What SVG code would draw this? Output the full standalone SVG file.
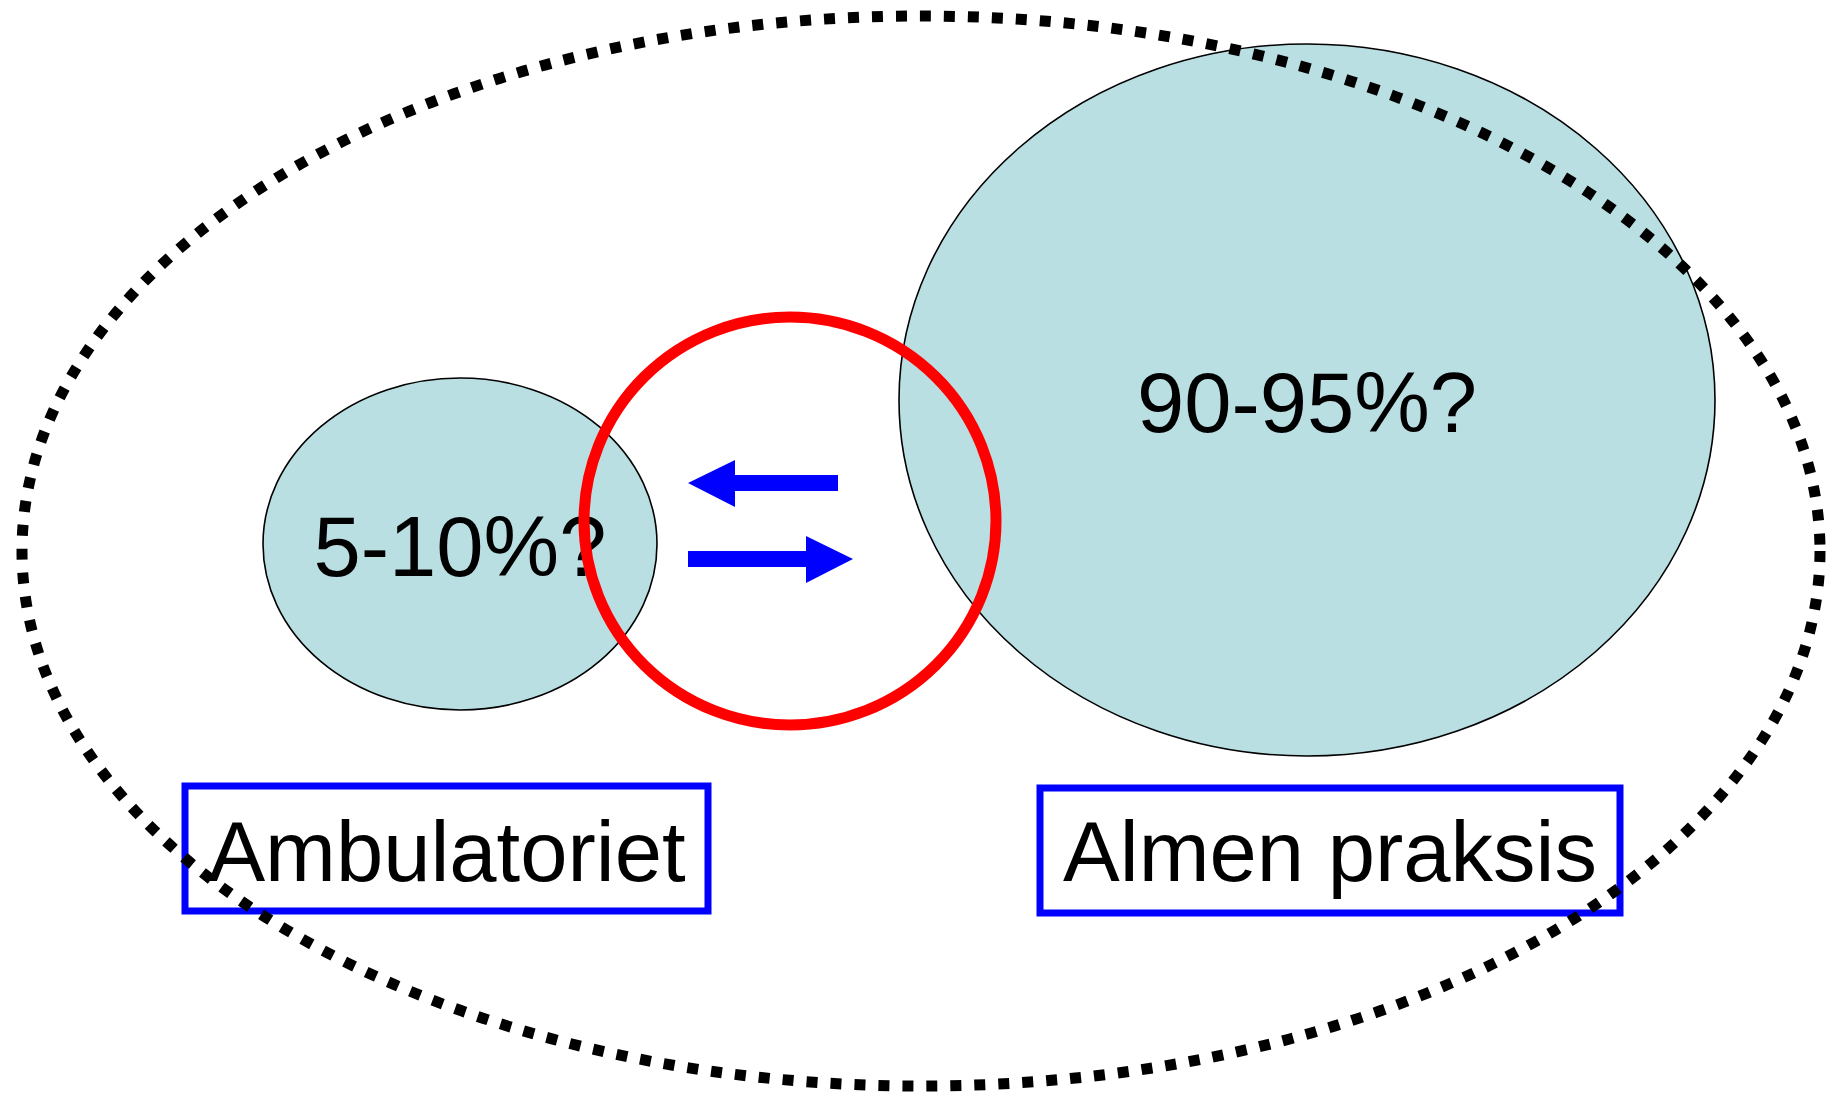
<svg xmlns="http://www.w3.org/2000/svg" width="1837" height="1095" viewBox="0 0 1837 1095">
<style>
.blob{fill:#B9DFE3;stroke:#000;stroke-width:1.6}
.lbl{font-family:"Liberation Sans",Arial,sans-serif;font-size:85px;fill:#000;text-anchor:middle}
.box{fill:none;stroke:#0000FF;stroke-width:7}
.arrow{fill:#0000FF}
</style>
<rect width="1837" height="1095" fill="#fff"/>
<g id="almen-praksis-ellipse">
<ellipse class="blob" cx="1307" cy="400" rx="408" ry="356"/>
<text class="lbl" x="1307" y="432">90-95%?</text>
</g>
<g id="ambulatoriet-ellipse">
<ellipse class="blob" cx="460" cy="544" rx="197" ry="166"/>
<text class="lbl" x="460" y="576">5-10%?</text>
</g>
<g id="overlap-circle">
<ellipse cx="790" cy="521" rx="206" ry="204" fill="none" stroke="#FF0000" stroke-width="11"/>
</g>
<g id="connectors">
<polygon class="arrow" points="688,483 735,460 735,475 838,475 838,491 735,491 735,507"/>
<polygon class="arrow" points="688,551 806,551 806,536 853,559 806,583 806,567 688,567"/>
</g>
<g id="label-ambulatoriet">
<rect class="box" x="185" y="786" width="523" height="125"/>
<text class="lbl" x="447" y="881">Ambulatoriet</text>
</g>
<g id="label-almen-praksis">
<rect class="box" x="1040" y="788" width="580" height="125"/>
<text class="lbl" x="1330" y="881">Almen praksis</text>
</g>
<g id="outer-boundary">
<ellipse cx="921" cy="551" rx="899" ry="535" fill="none" stroke="#000" stroke-width="11" stroke-dasharray="11 13"/>
</g>
</svg>
